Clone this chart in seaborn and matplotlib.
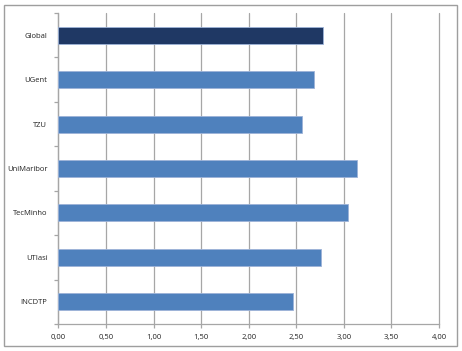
import matplotlib
matplotlib.use("Agg")
import matplotlib.pyplot as plt
import matplotlib.patches as mpatches
import seaborn as sns
import pandas as pd
import numpy as np
from matplotlib.ticker import FixedLocator, FuncFormatter

categories = ["Global", "UGent", "TZU", "UniMaribor", "TecMinho", "UTIasi", "INCDTP"]
values = [2.78, 2.69, 2.56, 3.14, 3.04, 2.76, 2.46]
xticks = [0.0, 0.5, 1.0, 1.5, 2.0, 2.5, 3.0, 3.5, 4.0]

bar_colors = ["#1F3864"] + ["#4F81BD"] * 6

sns.set_theme(style="white")
plt.rcParams["font.family"] = ["Open Sans", "DejaVu Sans"]

df = pd.DataFrame({"cat": categories, "val": values})

fig = plt.figure(figsize=(4.62, 3.51), dpi=100)
ax = fig.add_axes([58.5 / 462, 1 - 324 / 351, (439 - 58.5) / 462, (324 - 13) / 351])

sns.barplot(data=df, x="val", y="cat", hue="cat", palette=bar_colors, order=categories,
            width=0.38, legend=False, ax=ax, saturation=1, edgecolor="#9DB3D8", linewidth=0.6,
            zorder=3)

ax.set_xlim(0, 4)
ax.set_ylim(6.5, -0.5)
ax.set_xlabel("")
ax.set_ylabel("")
ax.xaxis.set_major_locator(FixedLocator(xticks))
ax.xaxis.set_major_formatter(FuncFormatter(lambda v, p: f"{v:.2f}".replace(".", ",")))
ax.grid(axis="x", color="#A6A6A6", linewidth=0.9, zorder=0)
ax.grid(axis="y", visible=False)
for gl in ax.get_xgridlines():
    gl.set_clip_on(False)
ax.set_axisbelow(True)

for s in ["top", "right"]:
    ax.spines[s].set_visible(False)
for s in ["left", "bottom"]:
    ax.spines[s].set_color("#A6A6A6")
    ax.spines[s].set_linewidth(0.9)

ax.tick_params(axis="x", which="major", length=3, width=0.9, color="#A6A6A6",
               labelsize=5.5, pad=4, bottom=True)
ax.tick_params(axis="y", which="major", length=0, labelsize=5.5, pad=8)
ax.yaxis.set_minor_locator(FixedLocator(np.arange(-0.5, 7.0, 1.0)))
ax.tick_params(axis="y", which="minor", length=3, width=0.9, color="#A6A6A6", left=True)
for lbl in ax.get_xticklabels() + ax.get_yticklabels():
    lbl.set_color("#222222")

border = mpatches.Rectangle((4 / 462, 5 / 351), 453 / 462, 341 / 351, transform=fig.transFigure,
                            fill=False, edgecolor="#9E9E9E", linewidth=1.0)
fig.patches.append(border)

fig.savefig("out.png", dpi=100)
